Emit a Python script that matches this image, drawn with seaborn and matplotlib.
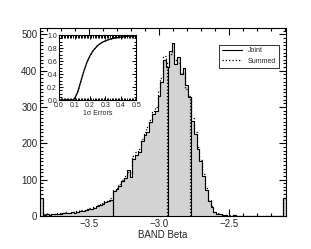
import numpy as np
import pandas as pd
import seaborn as sns
from matplotlib import pyplot as plt
from matplotlib.ticker import MultipleLocator

sns.set_style('ticks')
plt.rcParams['font.family'] = ['Liberation Sans', 'DejaVu Sans']
plt.rcParams.update({
    'xtick.direction': 'in', 'ytick.direction': 'in',
    'xtick.top': True, 'ytick.right': True,
})

# histogram bins (BAND beta), width 0.02
edges = np.round(np.arange(-3.85, -2.089, 0.02), 3)

joint = [50, 3, 4, 3, 5, 4, 6, 5, 7, 8,
         7, 10, 9, 12, 14, 13, 17, 19, 18, 22,
         26, 30, 33, 38, 41, 45, 68, 74, 82, 96,
         104, 127, 107, 158, 168, 176, 205, 222, 232, 258,
         280, 290, 330, 369, 430, 410, 455, 475, 418, 438,
         390, 408, 360, 328, 262, 225, 185, 150, 110, 70,
         40, 24, 10, 5, 4, 2, 3, 1, 1, 2,
         1, 0, 1, 1, 0, 1, 0, 1, 0, 0,
         1, 0, 0, 1, 0, 0, 0, 50]

summed = [48, 4, 5, 4, 6, 6, 7, 7, 8, 10,
          9, 12, 11, 14, 15, 16, 19, 21, 20, 25,
          29, 32, 35, 40, 44, 50, 70, 78, 88, 100,
          110, 120, 118, 165, 175, 185, 212, 230, 245, 265,
          290, 300, 345, 380, 440, 425, 445, 455, 430, 420,
          395, 395, 350, 330, 270, 232, 190, 155, 115, 78,
          45, 28, 12, 7, 5, 3, 3, 2, 1, 2,
          1, 1, 1, 1, 0, 1, 0, 1, 1, 0,
          1, 0, 0, 1, 0, 0, 1, 50]

# median and 1-sigma bounds
joint_stats = [-3.33, -2.937, -2.772]
summed_stats = [-3.328, -2.942, -2.775]

# inset: cumulative fraction of 1-sigma errors
err_x = [0.0, 0.09, 0.1, 0.12, 0.14, 0.16, 0.18, 0.2, 0.22, 0.25,
         0.28, 0.32, 0.36, 0.4, 0.45, 0.5]
err_y = [0.0, 0.0, 0.02, 0.12, 0.28, 0.44, 0.58, 0.68, 0.76, 0.84,
         0.89, 0.93, 0.955, 0.97, 0.985, 0.99]

centers = (edges[:-1] + edges[1:]) / 2
df = pd.DataFrame({'beta': centers, 'joint': joint, 'summed': summed})
bins = edges.tolist()

fig = plt.figure(figsize=(3.11, 2.49), dpi=100)
ax = fig.add_axes([0.129, 0.133, 0.791, 0.755])

sns.histplot(data=df, x='beta', weights='joint', bins=bins, element='step',
             fill=True, color='#d3d3d3', alpha=1, edgecolor='none', ax=ax)
sns.histplot(data=df, x='beta', weights='joint', bins=bins, element='step',
             fill=False, color='black', linewidth=0.8, ax=ax, label='Joint')
sns.histplot(data=df, x='beta', weights='summed', bins=bins, element='step',
             fill=False, color='black', linewidth=0.9, linestyle=':', ax=ax,
             label='Summed')


def height_at(vals, x):
    i = np.searchsorted(edges, x) - 1
    return vals[i]


for s in joint_stats:
    ax.plot([s, s], [0, height_at(joint, s)], color='black', lw=0.8)
for s in summed_stats:
    ax.plot([s, s], [0, height_at(summed, s)], color='black', lw=0.9, ls=':')

ax.set_xlim(-3.85, -2.09)
ax.set_ylim(0, 518)
ax.xaxis.set_major_locator(MultipleLocator(0.5))
ax.xaxis.set_minor_locator(MultipleLocator(0.1))
ax.yaxis.set_major_locator(MultipleLocator(100))
ax.yaxis.set_minor_locator(MultipleLocator(10))
ax.tick_params(which='both', top=True, right=True, direction='in',
               labelsize=7, pad=2, color='black')
ax.tick_params(which='major', length=5, width=0.8)
ax.tick_params(which='minor', length=2.5, width=0.8)
ax.xaxis.set_major_formatter(plt.FuncFormatter(lambda v, p: f'\u2212{abs(v):.1f}'))
for sp in ax.spines.values():
    sp.set_linewidth(0.8)
    sp.set_color('black')
ax.set_xlabel('BAND Beta', fontsize=7, labelpad=1)
ax.set_ylabel('')

leg = ax.legend(loc='upper right', fontsize=5, frameon=True, fancybox=False,
                edgecolor='black', handlelength=3, borderpad=0.4,
                bbox_to_anchor=(0.985, 0.93))
leg.get_frame().set_linewidth(0.7)

ins = fig.add_axes([0.19, 0.598, 0.248, 0.261])
sns.lineplot(x=err_x, y=err_y, color='black', lw=0.9, ax=ins)
sns.lineplot(x=err_x, y=err_y, color='black', lw=0.9, ls=':', ax=ins)
ins.set_xlim(0, 0.5)
ins.set_ylim(0, 1.0)
ins.xaxis.set_major_locator(MultipleLocator(0.1))
ins.xaxis.set_minor_locator(MultipleLocator(0.01))
ins.yaxis.set_major_locator(MultipleLocator(0.2))
ins.yaxis.set_minor_locator(MultipleLocator(0.05))
ins.tick_params(which='both', top=True, right=True, direction='in',
                labelsize=5, pad=1.5, color='black')
ins.tick_params(which='major', length=3, width=0.7)
ins.tick_params(which='minor', length=1.8, width=0.7)
for sp in ins.spines.values():
    sp.set_linewidth(0.8)
    sp.set_color('black')
ins.set_xlabel('1\u03c3 Errors', fontsize=5, labelpad=0.5)

fig.savefig('out.png', dpi=100)
